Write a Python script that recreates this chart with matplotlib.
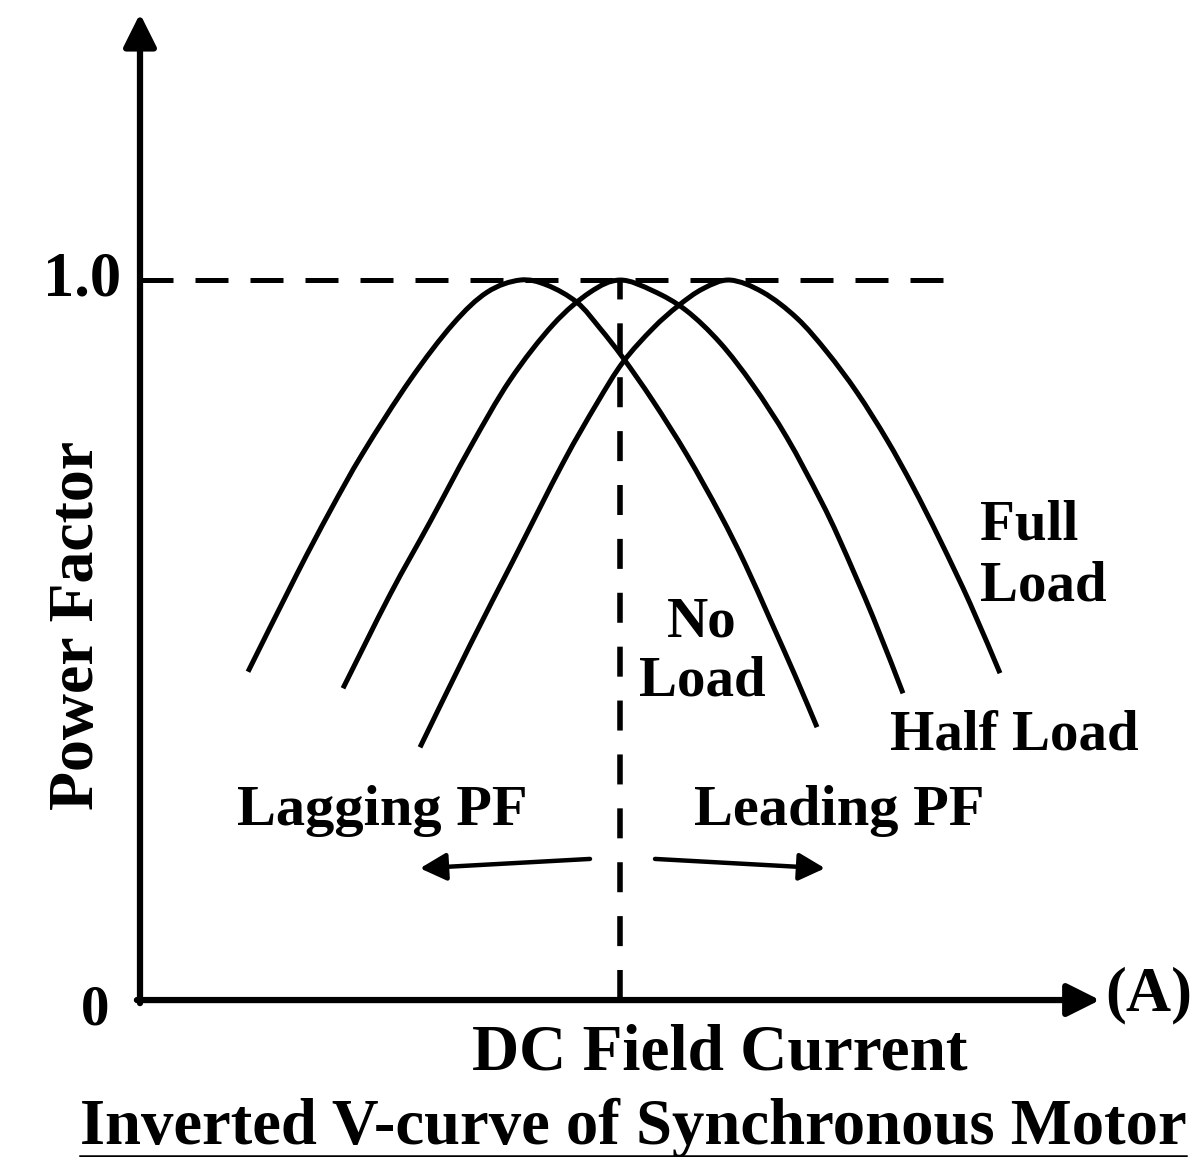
import matplotlib.pyplot as plt
from matplotlib.path import Path
from matplotlib.patches import PathPatch

# field current (arbitrary units) vs power factor
no_load_x = [1.08, 1.57, 1.90, 2.23, 2.70, 3.13, 3.47, 3.80, 4.07, 4.37, 4.60, 4.83, 5.13, 5.47, 5.80, 6.05, 6.30, 6.55, 6.77]
no_load_pf = [0.456, 0.592, 0.679, 0.760, 0.861, 0.939, 0.983, 1.0, 0.993, 0.969, 0.933, 0.892, 0.832, 0.757, 0.675, 0.606, 0.529, 0.451, 0.379]

half_load_x = [2.03, 2.50, 2.90, 3.30, 3.70, 4.13, 4.50, 4.80, 5.13, 5.46, 5.80, 6.13, 6.47, 6.80, 7.00, 7.33, 7.63]
half_load_pf = [0.433, 0.563, 0.664, 0.767, 0.861, 0.938, 0.983, 1.0, 0.985, 0.958, 0.913, 0.854, 0.781, 0.696, 0.638, 0.532, 0.426]

full_load_x = [2.80, 3.30, 3.73, 4.23, 4.57, 4.83, 5.13, 5.38, 5.63, 5.90, 6.23, 6.57, 6.87, 7.17, 7.47, 7.73, 8.00, 8.30, 8.60]
full_load_pf = [0.351, 0.493, 0.610, 0.746, 0.829, 0.886, 0.933, 0.964, 0.988, 1.0, 0.983, 0.947, 0.900, 0.844, 0.778, 0.713, 0.639, 0.551, 0.454]

unity_pf = 1.0
unity_field = 4.8
x_axis_end = 9.6
y_axis_end = 1.37
dash_end = 8.1

plt.rcParams['font.family'] = ['Liberation Serif', 'DejaVu Serif']
plt.rcParams['font.weight'] = 'bold'


def smooth_path(xs, ys):
    # catmull-rom through the read points, drawn as cubic bezier segments
    pts = list(zip(xs, ys))
    verts = [pts[0]]
    codes = [Path.MOVETO]
    for i in range(len(pts) - 1):
        p0 = pts[i - 1] if i > 0 else pts[i]
        p1, p2 = pts[i], pts[i + 1]
        p3 = pts[i + 2] if i + 2 < len(pts) else pts[i + 1]
        c1 = (p1[0] + (p2[0] - p0[0]) / 6, p1[1] + (p2[1] - p0[1]) / 6)
        c2 = (p2[0] - (p3[0] - p1[0]) / 6, p2[1] - (p3[1] - p1[1]) / 6)
        verts += [c1, c2, p2]
        codes += [Path.CURVE4] * 3
    return Path(verts, codes)


fig = plt.figure(figsize=(12.03, 11.57), dpi=100)
ax = fig.add_axes([0, 0, 1, 1])
ax.set_xlim(-1.40, 10.63)
ax.set_ylim(-0.218, 1.389)
ax.axis('off')

# axes with arrow heads
arrow = dict(arrowstyle='-|>,head_length=1.0,head_width=0.5', color='black', lw=4.5,
             shrinkA=0, shrinkB=0, mutation_scale=20)
ax.annotate('', xy=(x_axis_end, 0), xytext=(-0.031, 0), arrowprops=arrow)
ax.annotate('', xy=(0, y_axis_end), xytext=(0, -0.0043), arrowprops=arrow)

# dashed guides
ax.plot([0, dash_end], [unity_pf, unity_pf], color='black', lw=3.6, dashes=(6.6, 4.4))
ax.plot([unity_field, unity_field], [0, unity_pf], color='black', lw=4.0, dashes=(5.4, 4.3))

for xs, ys in [(no_load_x, no_load_pf), (half_load_x, half_load_pf), (full_load_x, full_load_pf)]:
    ax.add_patch(PathPatch(smooth_path(xs, ys), fill=False, edgecolor='black', lw=3.6,
                           capstyle='butt'))

# lagging / leading arrows
small = dict(arrowstyle='-|>,head_length=0.8,head_width=0.42', color='black', lw=3.2,
             shrinkA=0, shrinkB=0, mutation_scale=20)
ax.annotate('', xy=(2.80, 0.183), xytext=(4.50, 0.196), arrowprops=small)
ax.annotate('', xy=(6.85, 0.183), xytext=(5.15, 0.196), arrowprops=small)

fs = 41
ax.text(-0.19, unity_pf, '1.0', fontsize=45, ha='right', va='center')
ax.text(-0.45, -0.014, '0', fontsize=fs, ha='center', va='center')
ax.text(-0.62, 0.521, 'Power Factor', fontsize=46, rotation=90, ha='center', va='center')
ax.text(2.42, 0.262, 'Lagging PF', fontsize=42, ha='center', va='center')
ax.text(6.99, 0.262, 'Leading PF', fontsize=42, ha='center', va='center')
ax.text(5.62, 0.483, 'No\nLoad', fontsize=fs, ha='center', va='center', linespacing=1.18)
ax.text(8.40, 0.617, 'Full\nLoad', fontsize=fs, ha='left', va='center', linespacing=1.22)
ax.text(8.74, 0.368, 'Half Load', fontsize=fs, ha='center', va='center')
ax.text(9.65, 0.007, '(A)', fontsize=45, ha='left', va='center')
ax.text(5.80, -0.074, 'DC Field Current', fontsize=47, ha='center', va='center')
title = ax.text(4.93, -0.178, 'Inverted V-curve of Synchronous Motor', fontsize=46.5,
                ha='center', va='center')

# underline the caption
fig.canvas.draw()
bb = title.get_window_extent().transformed(fig.transFigure.inverted())
fig.add_artist(plt.Line2D([bb.x0, bb.x1], [bb.y0 + 0.002, bb.y0 + 0.002],
                          transform=fig.transFigure, color='black', lw=1.8))

fig.savefig('out.png', dpi=100)
